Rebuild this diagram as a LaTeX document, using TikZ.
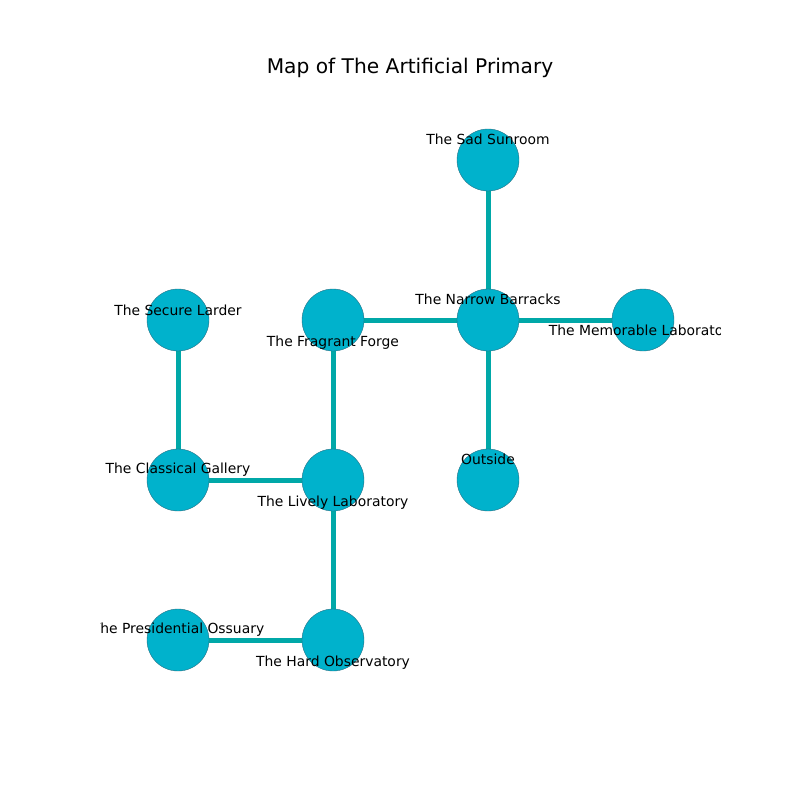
\documentclass[tikz,border=0pt]{standalone}
\usepackage{fontspec}
\setmainfont{DejaVu Sans}
\definecolor{nodefill}{RGB}{0,178,204}
\definecolor{edgecol}{RGB}{0,168,168}
\definecolor{rim}{RGB}{40,110,130}
\begin{document}
\begin{tikzpicture}[x=1pt,y=-1pt,
  room/.style={circle,fill=nodefill,draw=rim,line width=0.4pt,minimum size=62pt,inner sep=0pt},
  link/.style={draw=edgecol,line width=5pt},
  lab/.style={inner sep=0pt,font=\fontsize{13.9}{16}\selectfont}]
\useasboundingbox (0,0) rectangle (800,800);
\node[font=\fontsize{20.2}{24}\selectfont] (title) at (410,68) {Map of The Artificial Primary};
\coordinate (sad) at (488,160);
\coordinate (nar) at (488,320);
\coordinate (mem) at (643,320);
\coordinate (fra) at (333,320);
\coordinate (sec) at (178,320);
\coordinate (cla) at (178,480);
\coordinate (liv) at (333,480);
\coordinate (out) at (488,480);
\coordinate (pre) at (178,640);
\coordinate (har) at (333,640);
\draw[link] (sad) -- (nar);
\draw[link] (nar) -- (mem);
\draw[link] (nar) -- (fra);
\draw[link] (nar) -- (out);
\draw[link] (fra) -- (liv);
\draw[link] (sec) -- (cla);
\draw[link] (cla) -- (liv);
\draw[link] (liv) -- (har);
\draw[link] (pre) -- (har);
\foreach \c in {sad,nar,mem,fra,sec,cla,liv,out,pre,har}
  \node[room] (n\c) at (\c) {};
\begin{scope}
\clip (100,96) rectangle (720,712);
\node[lab] (lsad) at (488,139) {The Sad Sunroom};
\node[lab] (lnar) at (488,299) {The Narrow Barracks};
\node[lab] (lmem) at (643,332) {The Memorable Laboratory};
\node[lab] (lfra) at (333,343) {The Fragrant Forge};
\node[lab] (lsec) at (178,310) {The Secure Larder};
\node[lab] (lcla) at (178,470) {The Classical Gallery};
\node[lab] (lliv) at (333,503) {The Lively Laboratory};
\node[lab] (lout) at (488,459) {Outside};
\node[lab] (lpre) at (178,630) {The Presidential Ossuary};
\node[lab] (lhar) at (333,663) {The Hard Observatory};
\end{scope}
\end{tikzpicture}
\end{document}
